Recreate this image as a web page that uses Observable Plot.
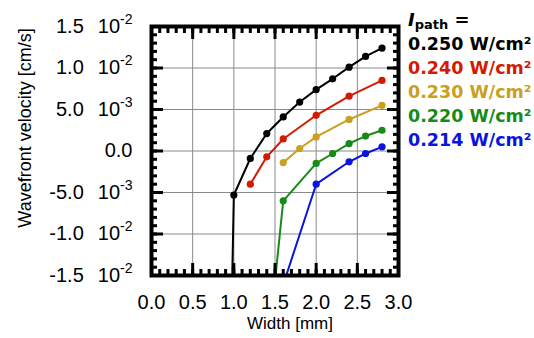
<!DOCTYPE html>
<html><head><meta charset="utf-8">
<script src="https://cdn.jsdelivr.net/npm/d3@7"></script>
<script src="https://cdn.jsdelivr.net/npm/@observablehq/plot@0.6"></script>
<style>
body{margin:0;background:#fff}
#chart{width:534px;height:338px}
</style>
</head><body><div id="chart"></div>
<script>
// Series: intensity labels and colours
const seriesLabels = ["0.250 W/cm²", "0.240 W/cm²", "0.230 W/cm²", "0.220 W/cm²", "0.214 W/cm²"];
const seriesColors = ["#000000", "#d41a00", "#c9a020", "#178a17", "#0a14e0"];

// Width [mm] and wavefront velocity [cm/s] for each series
const blackX = [0.98, 1.0, 1.2, 1.4, 1.6, 1.8, 2.0, 2.2, 2.4, 2.6, 2.8];
const blackY = [-0.0155, -0.0053, -0.0009, 0.0021, 0.0041, 0.0059, 0.0074, 0.0087, 0.0101, 0.0114, 0.0124];
const redX = [1.2, 1.4, 1.6, 2.0, 2.4, 2.8];
const redY = [-0.0040, -0.0007, 0.00145, 0.0043, 0.0066, 0.0085];
const goldX = [1.6, 1.8, 2.0, 2.4, 2.8];
const goldY = [-0.0014, 0.0003, 0.0017, 0.0038, 0.0055];
const greenX = [1.5, 1.6, 2.0, 2.2, 2.4, 2.6, 2.8];
const greenY = [-0.0157, -0.0060, -0.0015, -0.0003, 0.0009, 0.0018, 0.0025];
const blueX = [1.6, 2.0, 2.4, 2.6, 2.8];
const blueY = [-0.0161, -0.0040, -0.0013, -0.0003, 0.0005];

// Tick values and labels
const xTicks = [0, 0.5, 1.0, 1.5, 2.0, 2.5, 3.0];
const xTickLabels = ["0.0", "0.5", "1.0", "1.5", "2.0", "2.5", "3.0"];
const yTicks = [-0.015, -0.010, -0.005, 0, 0.005, 0.010, 0.015];
const yTickMant = ["-1.5", "-1.0", "-5.0", "0.0", "5.0", "1.0", "1.5"];
const yTickExp = ["-2", "-2", "-3", "", "-3", "-2", "-2"];
const xMinor = d3.range(0, 31).map(i => i / 10);
const yMinor = d3.range(-15, 16).map(i => i / 1000);

const xs = [blackX, redX, goldX, greenX, blueX];
const ys = [blackY, redY, goldY, greenY, blueY];
const rows = [];
xs.forEach((xa, s) => xa.forEach((x, i) => rows.push({series: seriesLabels[s], x, y: ys[s][i]})));

const yIdx = d => yTicks.findIndex(t => Math.abs(t - d) < 1e-9);
const yLab = d => { const i = yIdx(d); return yTickExp[i] ? yTickMant[i] + " 10" + yTickExp[i] : yTickMant[i]; };
const xLab = d => xTickLabels[xTicks.findIndex(t => Math.abs(t - d) < 1e-9)];

const edge = (anchor, ticks, size) => anchor === "top" || anchor === "bottom"
  ? Plot.axisX(ticks, {anchor, tickSize: -size, tickFormat: () => "", stroke: "black", strokeWidth: 3, label: null})
  : Plot.axisY(ticks, {anchor, tickSize: -size, tickFormat: () => "", stroke: "black", strokeWidth: 3, label: null});

const chart = Plot.plot({
  width: 534,
  height: 338,
  marginLeft: 151,
  marginRight: 136,
  marginTop: 26,
  marginBottom: 63,
  style: {fontFamily: "'Liberation Sans', Arial, sans-serif", fontSize: "20px", background: "white", color: "black"},
  x: {domain: [0, 3]},
  y: {domain: [-0.015, 0.015]},
  color: {domain: seriesLabels, range: seriesColors},
  marks: [
    Plot.gridX(xTicks, {stroke: "#8a8a8a", strokeOpacity: 1, strokeWidth: 1}),
    Plot.gridY(yTicks, {stroke: "#8a8a8a", strokeOpacity: 1, strokeWidth: 1}),
    Plot.line(rows, {x: "x", y: "y", z: "series", stroke: "series", strokeWidth: 2, clip: true}),
    Plot.dot(rows, {x: "x", y: "y", fill: "series", r: 3.6, clip: true}),
    Plot.frame({stroke: "black", strokeWidth: 4}),
    edge("top", xMinor, 6), edge("bottom", xMinor, 6),
    edge("top", xTicks, 12), edge("bottom", xTicks, 12),
    edge("left", yMinor, 6), edge("right", yMinor, 6),
    edge("left", yTicks, 12), edge("right", yTicks, 12),
    Plot.axisX(xTicks, {anchor: "bottom", tickSize: 0, tickPadding: 19, tickFormat: xLab, label: null, fontSize: 20}),
    Plot.axisY(yTicks, {anchor: "left", tickSize: 0, tickPadding: 19, tickFormat: yLab, label: null, fontSize: 20})
  ]
});
document.getElementById("chart").append(chart);
const svg = d3.select(chart);

// y tick labels: mantissa and "10" with a raised exponent
svg.selectAll("text").each(function() {
  const t = this.textContent;
  const i = yTicks.findIndex(v => yLab(v) === t);
  if (i >= 0 && yTickExp[i]) {
    const el = d3.select(this);
    el.text(null);
    el.append("tspan").text(yTickMant[i] + "\u2002\u200910");
    el.append("tspan").attr("dy", -9).attr("font-size", "14px").text(yTickExp[i]);
  }
});

// axis titles
svg.append("text").attr("text-anchor", "middle").attr("font-size", "18px")
  .attr("transform", "translate(31,128) rotate(-90)").text("Wavefront velocity [cm/s]");
svg.append("text").attr("text-anchor", "middle").attr("font-size", "17px")
  .attr("x", 290).attr("y", 329).text("Width [mm]");

// legend
const lg = svg.append("g").attr("font-family", "'DejaVu Sans', sans-serif").attr("font-weight", "bold").attr("text-anchor", "start");
const head = lg.append("text").attr("x", 408).attr("y", 26).attr("font-size", "18px").attr("fill", "black");
head.append("tspan").attr("font-style", "italic").text("I");
head.append("tspan").attr("font-size", "13px").attr("dy", 3).text("path");
head.append("tspan").attr("font-size", "18px").attr("dy", -3).text(" =");
seriesLabels.forEach((lab, i) => {
  lg.append("text").attr("x", 408).attr("y", 50 + i * 24).attr("font-size", "17.5px")
    .attr("fill", seriesColors[i]).text(lab);
});
</script>
</body></html>
